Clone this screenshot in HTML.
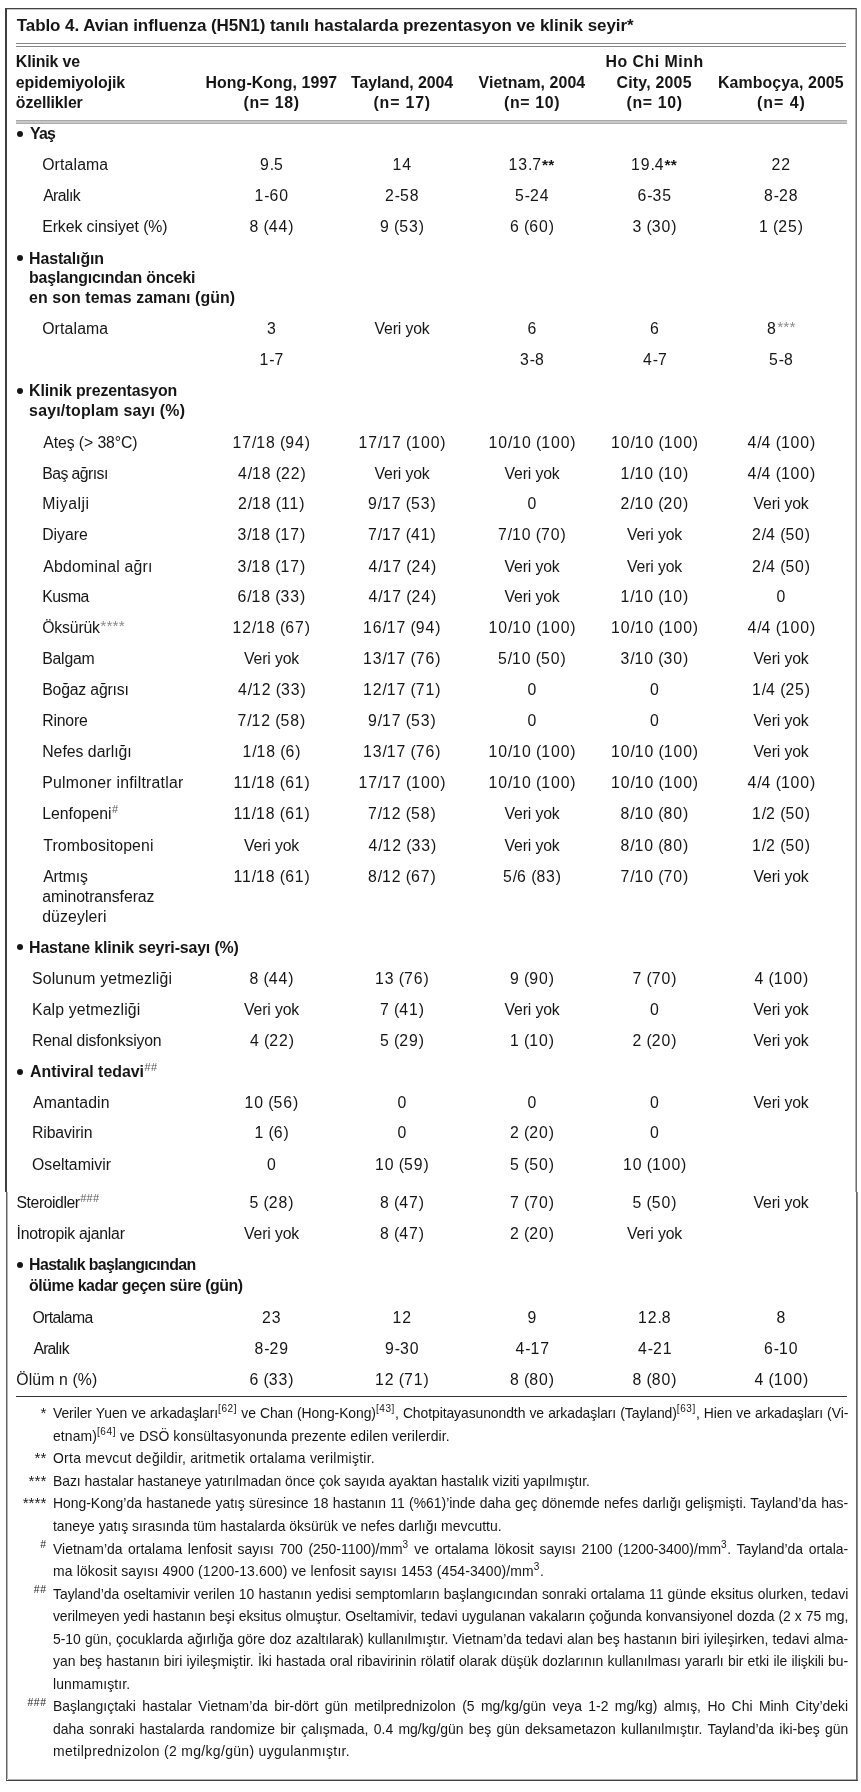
<!DOCTYPE html>
<html><head><meta charset="utf-8"><title>Tablo 4</title><style>
*{margin:0;padding:0;box-sizing:border-box}
html,body{width:861px;height:1792px;background:#fff;overflow:hidden}
body{position:relative;font-family:"Liberation Sans",sans-serif;color:#161616}
.t{position:absolute;white-space:nowrap;line-height:20px;height:20px;transform-origin:0 0}
.r{position:absolute}
.spa{font-size:15.5px;color:#8a8a8a;vertical-align:baseline;position:relative;top:-2.5px;letter-spacing:0.1px;font-weight:normal;margin-left:0.5px}
.sph{font-size:11px;color:#5a5a5a;vertical-align:baseline;position:relative;top:-6px;letter-spacing:0.3px;font-weight:normal;margin-left:0.5px}
sup{font-size:10.5px;letter-spacing:0.6px;vertical-align:baseline;position:relative;top:-6px;line-height:0}
.fn{transform-origin:0 0}
.ast{font-weight:bold;font-size:15.5px;letter-spacing:0.3px}
#pg{position:absolute;left:0;top:0;width:861px;height:1792px;background:#fff;filter:grayscale(1)}
.bul{position:absolute;width:6px;height:6px;border-radius:50%;background:#161616}
</style></head>
<body><div id="pg">
<div class="r" style="left:5px;top:8px;width:852px;height:1px;background:#444"></div>
<div class="r" style="left:7px;top:9px;width:849px;height:1px;background:#c4c4c4"></div>
<div class="r" style="left:5px;top:8px;width:2px;height:1184px;background:#3f3f3f"></div>
<div class="r" style="left:6px;top:1192px;width:1px;height:589px;background:#646464"></div>
<div class="r" style="left:7px;top:1192px;width:1px;height:587px;background:#b5b5b5"></div>
<div class="r" style="left:855px;top:9px;width:1px;height:1183px;background:#b0b0b0"></div>
<div class="r" style="left:856px;top:8px;width:1px;height:1184px;background:#6e6e6e"></div>
<div class="r" style="left:856px;top:1192px;width:1px;height:589px;background:#686868"></div>
<div class="r" style="left:857px;top:1192px;width:1px;height:589px;background:#8c8c8c"></div>
<div class="r" style="left:8px;top:1779px;width:848px;height:1px;background:#b0b0b0"></div>
<div class="r" style="left:6px;top:1780px;width:852px;height:1px;background:#444"></div>
<div class="r" style="left:16px;top:43px;width:830px;height:1px;background:#858585"></div>
<div class="r" style="left:16px;top:46px;width:830px;height:1px;background:#858585"></div>
<div class="r" style="left:16px;top:120px;width:831px;height:1px;background:#a8a8a8"></div>
<div class="r" style="left:16px;top:121px;width:831px;height:2px;background:#c8c8c8"></div>
<div class="r" style="left:16px;top:123px;width:831px;height:1px;background:#aeaeae"></div>
<div class="r" style="left:16.4px;top:1396px;width:830.4px;height:1.3px;background:#333"></div>
<div class="t" style="left:16.70px;top:16.00px;font-size:17px;letter-spacing:-0.064px;font-weight:bold;">Tablo 4. Avian influenza (H5N1) tanılı hastalarda prezentasyon ve klinik seyir*</div>
<div class="t" style="left:15.80px;top:52.00px;font-size:15.9px;letter-spacing:-0.125px;font-weight:bold;">Klinik ve</div>
<div class="t" style="left:15.80px;top:73.00px;font-size:15.9px;letter-spacing:-0.077px;font-weight:bold;">epidemiyolojik</div>
<div class="t" style="left:15.80px;top:93.00px;font-size:15.9px;letter-spacing:-0.111px;font-weight:bold;">özellikler</div>
<div class="t" style="left:205.50px;top:73.00px;font-size:15.9px;letter-spacing:0.071px;font-weight:bold;">Hong-Kong, 1997</div>
<div class="t" style="left:243.50px;top:93.00px;font-size:15.9px;letter-spacing:0.667px;font-weight:bold;">(n= 18)</div>
<div class="t" style="left:351.00px;top:73.00px;font-size:15.9px;letter-spacing:-0.083px;font-weight:bold;">Tayland, 2004</div>
<div class="t" style="left:373.50px;top:93.00px;font-size:15.9px;letter-spacing:0.833px;font-weight:bold;">(n= 17)</div>
<div class="t" style="left:478.50px;top:73.00px;font-size:15.9px;letter-spacing:0.083px;font-weight:bold;">Vietnam, 2004</div>
<div class="t" style="left:504.00px;top:93.00px;font-size:15.9px;letter-spacing:0.667px;font-weight:bold;">(n= 10)</div>
<div class="t" style="left:605.50px;top:52.00px;font-size:15.9px;letter-spacing:0.500px;font-weight:bold;">Ho Chi Minh</div>
<div class="t" style="left:616.50px;top:73.00px;font-size:15.9px;letter-spacing:0.222px;font-weight:bold;">City, 2005</div>
<div class="t" style="left:626.50px;top:93.00px;font-size:15.9px;letter-spacing:0.667px;font-weight:bold;">(n= 10)</div>
<div class="t" style="left:718.00px;top:73.00px;font-size:15.9px;letter-spacing:0.077px;font-weight:bold;">Kamboçya, 2005</div>
<div class="t" style="left:757.00px;top:93.00px;font-size:15.9px;letter-spacing:1.000px;font-weight:bold;">(n= 4)</div>
<div class="t" style="left:30.10px;top:124.00px;font-size:15.9px;letter-spacing:-0.800px;font-weight:bold;">Yaş</div>
<div class="t" style="left:42.20px;top:155.00px;font-size:15.8px;letter-spacing:0.143px;">Ortalama</div>
<div class="t" style="left:260.00px;top:155.00px;font-size:15.8px;letter-spacing:0.000px;"><span style="letter-spacing:0.9px">9</span>.<span style="letter-spacing:0.9px">5</span></div>
<div class="t" style="left:392.50px;top:155.00px;font-size:15.8px;letter-spacing:0.000px;"><span style="letter-spacing:0.9px">14</span></div>
<div class="t" style="left:508.50px;top:155.00px;font-size:15.8px;letter-spacing:0.000px;"><span style="letter-spacing:0.9px">13</span>.<span style="letter-spacing:0.9px">7</span><b class=ast>**</b></div>
<div class="t" style="left:631.00px;top:155.00px;font-size:15.8px;letter-spacing:0.000px;"><span style="letter-spacing:0.9px">19</span>.<span style="letter-spacing:0.9px">4</span><b class=ast>**</b></div>
<div class="t" style="left:771.50px;top:155.00px;font-size:15.8px;letter-spacing:0.000px;"><span style="letter-spacing:0.9px">22</span></div>
<div class="t" style="left:43.20px;top:186.00px;font-size:15.8px;letter-spacing:-0.600px;">Aralık</div>
<div class="t" style="left:254.50px;top:186.00px;font-size:15.8px;letter-spacing:0.000px;"><span style="letter-spacing:0.9px">1</span>-<span style="letter-spacing:0.9px">60</span></div>
<div class="t" style="left:385.00px;top:186.00px;font-size:15.8px;letter-spacing:0.000px;"><span style="letter-spacing:0.9px">2</span>-<span style="letter-spacing:0.9px">58</span></div>
<div class="t" style="left:515.00px;top:186.00px;font-size:15.8px;letter-spacing:0.000px;"><span style="letter-spacing:0.9px">5</span>-<span style="letter-spacing:0.9px">24</span></div>
<div class="t" style="left:637.50px;top:186.00px;font-size:15.8px;letter-spacing:0.000px;"><span style="letter-spacing:0.9px">6</span>-<span style="letter-spacing:0.9px">35</span></div>
<div class="t" style="left:764.00px;top:186.00px;font-size:15.8px;letter-spacing:0.000px;"><span style="letter-spacing:0.9px">8</span>-<span style="letter-spacing:0.9px">28</span></div>
<div class="t" style="left:42.20px;top:217.00px;font-size:15.8px;letter-spacing:-0.059px;">Erkek cinsiyet (%)</div>
<div class="t" style="left:249.50px;top:217.00px;font-size:15.8px;letter-spacing:0.000px;"><span style="letter-spacing:0.9px">8</span> (<span style="letter-spacing:0.9px">44</span>)</div>
<div class="t" style="left:380.00px;top:217.00px;font-size:15.8px;letter-spacing:0.000px;"><span style="letter-spacing:0.9px">9</span> (<span style="letter-spacing:0.9px">53</span>)</div>
<div class="t" style="left:510.00px;top:217.00px;font-size:15.8px;letter-spacing:0.000px;"><span style="letter-spacing:0.9px">6</span> (<span style="letter-spacing:0.9px">60</span>)</div>
<div class="t" style="left:632.50px;top:217.00px;font-size:15.8px;letter-spacing:0.000px;"><span style="letter-spacing:0.9px">3</span> (<span style="letter-spacing:0.9px">30</span>)</div>
<div class="t" style="left:759.00px;top:217.00px;font-size:15.8px;letter-spacing:0.000px;"><span style="letter-spacing:0.9px">1</span> (<span style="letter-spacing:0.9px">25</span>)</div>
<div class="t" style="left:29.10px;top:249.00px;font-size:15.9px;letter-spacing:-0.111px;font-weight:bold;">Hastalığın</div>
<div class="t" style="left:29.10px;top:268.00px;font-size:15.9px;letter-spacing:-0.200px;font-weight:bold;">başlangıcından önceki</div>
<div class="t" style="left:29.10px;top:288.00px;font-size:15.9px;letter-spacing:0.083px;font-weight:bold;">en son temas zamanı (gün)</div>
<div class="t" style="left:42.20px;top:319.00px;font-size:15.8px;letter-spacing:0.143px;">Ortalama</div>
<div class="t" style="left:267.00px;top:319.00px;font-size:15.8px;letter-spacing:0.000px;"><span style="letter-spacing:0.9px">3</span></div>
<div class="t" style="left:374.50px;top:319.00px;font-size:15.8px;letter-spacing:-0.143px;">Veri yok</div>
<div class="t" style="left:527.50px;top:319.00px;font-size:15.8px;letter-spacing:0.000px;"><span style="letter-spacing:0.9px">6</span></div>
<div class="t" style="left:650.00px;top:319.00px;font-size:15.8px;letter-spacing:0.000px;"><span style="letter-spacing:0.9px">6</span></div>
<div class="t" style="left:767.00px;top:319.00px;font-size:15.8px;letter-spacing:0.000px;"><span style="letter-spacing:0.9px">8</span><span class="spa">***</span></div>
<div class="t" style="left:259.50px;top:350.00px;font-size:15.8px;letter-spacing:0.000px;"><span style="letter-spacing:0.9px">1</span>-<span style="letter-spacing:0.9px">7</span></div>
<div class="t" style="left:520.00px;top:350.00px;font-size:15.8px;letter-spacing:0.000px;"><span style="letter-spacing:0.9px">3</span>-<span style="letter-spacing:0.9px">8</span></div>
<div class="t" style="left:643.00px;top:350.00px;font-size:15.8px;letter-spacing:0.000px;"><span style="letter-spacing:0.9px">4</span>-<span style="letter-spacing:0.9px">7</span></div>
<div class="t" style="left:769.00px;top:350.00px;font-size:15.8px;letter-spacing:0.000px;"><span style="letter-spacing:0.9px">5</span>-<span style="letter-spacing:0.9px">8</span></div>
<div class="t" style="left:29.10px;top:381.00px;font-size:15.9px;letter-spacing:-0.111px;font-weight:bold;">Klinik prezentasyon</div>
<div class="t" style="left:29.10px;top:401.00px;font-size:15.9px;letter-spacing:0.211px;font-weight:bold;">sayı/toplam sayı (%)</div>
<div class="t" style="left:43.20px;top:433.00px;font-size:15.8px;letter-spacing:-0.083px;">Ateş (&gt; 38°C)</div>
<div class="t" style="left:232.50px;top:433.00px;font-size:15.8px;letter-spacing:0.000px;"><span style="letter-spacing:0.9px">17</span>/<span style="letter-spacing:0.9px">18</span> (<span style="letter-spacing:0.9px">94</span>)</div>
<div class="t" style="left:358.50px;top:433.00px;font-size:15.8px;letter-spacing:0.000px;"><span style="letter-spacing:0.9px">17</span>/<span style="letter-spacing:0.9px">17</span> (<span style="letter-spacing:0.9px">100</span>)</div>
<div class="t" style="left:488.50px;top:433.00px;font-size:15.8px;letter-spacing:0.000px;"><span style="letter-spacing:0.9px">10</span>/<span style="letter-spacing:0.9px">10</span> (<span style="letter-spacing:0.9px">100</span>)</div>
<div class="t" style="left:611.00px;top:433.00px;font-size:15.8px;letter-spacing:0.000px;"><span style="letter-spacing:0.9px">10</span>/<span style="letter-spacing:0.9px">10</span> (<span style="letter-spacing:0.9px">100</span>)</div>
<div class="t" style="left:747.50px;top:433.00px;font-size:15.8px;letter-spacing:0.000px;"><span style="letter-spacing:0.9px">4</span>/<span style="letter-spacing:0.9px">4</span> (<span style="letter-spacing:0.9px">100</span>)</div>
<div class="t" style="left:42.20px;top:464.00px;font-size:15.8px;letter-spacing:-0.556px;">Baş ağrısı</div>
<div class="t" style="left:238.00px;top:464.00px;font-size:15.8px;letter-spacing:0.000px;"><span style="letter-spacing:0.9px">4</span>/<span style="letter-spacing:0.9px">18</span> (<span style="letter-spacing:0.9px">22</span>)</div>
<div class="t" style="left:374.50px;top:464.00px;font-size:15.8px;letter-spacing:-0.143px;">Veri yok</div>
<div class="t" style="left:504.50px;top:464.00px;font-size:15.8px;letter-spacing:-0.143px;">Veri yok</div>
<div class="t" style="left:620.50px;top:464.00px;font-size:15.8px;letter-spacing:0.000px;"><span style="letter-spacing:0.9px">1</span>/<span style="letter-spacing:0.9px">10</span> (<span style="letter-spacing:0.9px">10</span>)</div>
<div class="t" style="left:747.50px;top:464.00px;font-size:15.8px;letter-spacing:0.000px;"><span style="letter-spacing:0.9px">4</span>/<span style="letter-spacing:0.9px">4</span> (<span style="letter-spacing:0.9px">100</span>)</div>
<div class="t" style="left:42.20px;top:494.00px;font-size:15.8px;letter-spacing:0.500px;">Miyalji</div>
<div class="t" style="left:238.00px;top:494.00px;font-size:15.8px;letter-spacing:0.000px;"><span style="letter-spacing:0.9px">2</span>/<span style="letter-spacing:0.9px">18</span> (<span style="letter-spacing:0.9px">11</span>)</div>
<div class="t" style="left:368.00px;top:494.00px;font-size:15.8px;letter-spacing:0.000px;"><span style="letter-spacing:0.9px">9</span>/<span style="letter-spacing:0.9px">17</span> (<span style="letter-spacing:0.9px">53</span>)</div>
<div class="t" style="left:527.50px;top:494.00px;font-size:15.8px;letter-spacing:0.000px;"><span style="letter-spacing:0.9px">0</span></div>
<div class="t" style="left:620.50px;top:494.00px;font-size:15.8px;letter-spacing:0.000px;"><span style="letter-spacing:0.9px">2</span>/<span style="letter-spacing:0.9px">10</span> (<span style="letter-spacing:0.9px">20</span>)</div>
<div class="t" style="left:753.50px;top:494.00px;font-size:15.8px;letter-spacing:-0.143px;">Veri yok</div>
<div class="t" style="left:42.20px;top:525.00px;font-size:15.8px;letter-spacing:0.000px;">Diyare</div>
<div class="t" style="left:237.50px;top:525.00px;font-size:15.8px;letter-spacing:0.000px;"><span style="letter-spacing:0.9px">3</span>/<span style="letter-spacing:0.9px">18</span> (<span style="letter-spacing:0.9px">17</span>)</div>
<div class="t" style="left:368.00px;top:525.00px;font-size:15.8px;letter-spacing:0.000px;"><span style="letter-spacing:0.9px">7</span>/<span style="letter-spacing:0.9px">17</span> (<span style="letter-spacing:0.9px">41</span>)</div>
<div class="t" style="left:498.00px;top:525.00px;font-size:15.8px;letter-spacing:0.000px;"><span style="letter-spacing:0.9px">7</span>/<span style="letter-spacing:0.9px">10</span> (<span style="letter-spacing:0.9px">70</span>)</div>
<div class="t" style="left:627.00px;top:525.00px;font-size:15.8px;letter-spacing:-0.143px;">Veri yok</div>
<div class="t" style="left:752.00px;top:525.00px;font-size:15.8px;letter-spacing:0.000px;"><span style="letter-spacing:0.9px">2</span>/<span style="letter-spacing:0.9px">4</span> (<span style="letter-spacing:0.9px">50</span>)</div>
<div class="t" style="left:43.20px;top:557.00px;font-size:15.8px;letter-spacing:0.231px;">Abdominal ağrı</div>
<div class="t" style="left:237.50px;top:557.00px;font-size:15.8px;letter-spacing:0.000px;"><span style="letter-spacing:0.9px">3</span>/<span style="letter-spacing:0.9px">18</span> (<span style="letter-spacing:0.9px">17</span>)</div>
<div class="t" style="left:368.50px;top:557.00px;font-size:15.8px;letter-spacing:0.000px;"><span style="letter-spacing:0.9px">4</span>/<span style="letter-spacing:0.9px">17</span> (<span style="letter-spacing:0.9px">24</span>)</div>
<div class="t" style="left:504.50px;top:557.00px;font-size:15.8px;letter-spacing:-0.143px;">Veri yok</div>
<div class="t" style="left:627.00px;top:557.00px;font-size:15.8px;letter-spacing:-0.143px;">Veri yok</div>
<div class="t" style="left:752.00px;top:557.00px;font-size:15.8px;letter-spacing:0.000px;"><span style="letter-spacing:0.9px">2</span>/<span style="letter-spacing:0.9px">4</span> (<span style="letter-spacing:0.9px">50</span>)</div>
<div class="t" style="left:42.20px;top:587.00px;font-size:15.8px;letter-spacing:-0.500px;">Kusma</div>
<div class="t" style="left:237.50px;top:587.00px;font-size:15.8px;letter-spacing:0.000px;"><span style="letter-spacing:0.9px">6</span>/<span style="letter-spacing:0.9px">18</span> (<span style="letter-spacing:0.9px">33</span>)</div>
<div class="t" style="left:368.50px;top:587.00px;font-size:15.8px;letter-spacing:0.000px;"><span style="letter-spacing:0.9px">4</span>/<span style="letter-spacing:0.9px">17</span> (<span style="letter-spacing:0.9px">24</span>)</div>
<div class="t" style="left:504.50px;top:587.00px;font-size:15.8px;letter-spacing:-0.143px;">Veri yok</div>
<div class="t" style="left:620.50px;top:587.00px;font-size:15.8px;letter-spacing:0.000px;"><span style="letter-spacing:0.9px">1</span>/<span style="letter-spacing:0.9px">10</span> (<span style="letter-spacing:0.9px">10</span>)</div>
<div class="t" style="left:776.50px;top:587.00px;font-size:15.8px;letter-spacing:0.000px;"><span style="letter-spacing:0.9px">0</span></div>
<div class="t" style="left:42.20px;top:618.00px;font-size:15.8px;letter-spacing:-0.167px;">Öksürük<span class="spa">****</span></div>
<div class="t" style="left:232.50px;top:618.00px;font-size:15.8px;letter-spacing:0.000px;"><span style="letter-spacing:0.9px">12</span>/<span style="letter-spacing:0.9px">18</span> (<span style="letter-spacing:0.9px">67</span>)</div>
<div class="t" style="left:363.00px;top:618.00px;font-size:15.8px;letter-spacing:0.000px;"><span style="letter-spacing:0.9px">16</span>/<span style="letter-spacing:0.9px">17</span> (<span style="letter-spacing:0.9px">94</span>)</div>
<div class="t" style="left:488.50px;top:618.00px;font-size:15.8px;letter-spacing:0.000px;"><span style="letter-spacing:0.9px">10</span>/<span style="letter-spacing:0.9px">10</span> (<span style="letter-spacing:0.9px">100</span>)</div>
<div class="t" style="left:611.00px;top:618.00px;font-size:15.8px;letter-spacing:0.000px;"><span style="letter-spacing:0.9px">10</span>/<span style="letter-spacing:0.9px">10</span> (<span style="letter-spacing:0.9px">100</span>)</div>
<div class="t" style="left:747.50px;top:618.00px;font-size:15.8px;letter-spacing:0.000px;"><span style="letter-spacing:0.9px">4</span>/<span style="letter-spacing:0.9px">4</span> (<span style="letter-spacing:0.9px">100</span>)</div>
<div class="t" style="left:42.20px;top:649.00px;font-size:15.8px;letter-spacing:-0.200px;">Balgam</div>
<div class="t" style="left:244.00px;top:649.00px;font-size:15.8px;letter-spacing:-0.143px;">Veri yok</div>
<div class="t" style="left:363.00px;top:649.00px;font-size:15.8px;letter-spacing:0.000px;"><span style="letter-spacing:0.9px">13</span>/<span style="letter-spacing:0.9px">17</span> (<span style="letter-spacing:0.9px">76</span>)</div>
<div class="t" style="left:498.00px;top:649.00px;font-size:15.8px;letter-spacing:0.000px;"><span style="letter-spacing:0.9px">5</span>/<span style="letter-spacing:0.9px">10</span> (<span style="letter-spacing:0.9px">50</span>)</div>
<div class="t" style="left:620.50px;top:649.00px;font-size:15.8px;letter-spacing:0.000px;"><span style="letter-spacing:0.9px">3</span>/<span style="letter-spacing:0.9px">10</span> (<span style="letter-spacing:0.9px">30</span>)</div>
<div class="t" style="left:753.50px;top:649.00px;font-size:15.8px;letter-spacing:-0.143px;">Veri yok</div>
<div class="t" style="left:42.20px;top:680.00px;font-size:15.8px;letter-spacing:-0.182px;">Boğaz ağrısı</div>
<div class="t" style="left:238.00px;top:680.00px;font-size:15.8px;letter-spacing:0.000px;"><span style="letter-spacing:0.9px">4</span>/<span style="letter-spacing:0.9px">12</span> (<span style="letter-spacing:0.9px">33</span>)</div>
<div class="t" style="left:363.00px;top:680.00px;font-size:15.8px;letter-spacing:0.000px;"><span style="letter-spacing:0.9px">12</span>/<span style="letter-spacing:0.9px">17</span> (<span style="letter-spacing:0.9px">71</span>)</div>
<div class="t" style="left:527.50px;top:680.00px;font-size:15.8px;letter-spacing:0.000px;"><span style="letter-spacing:0.9px">0</span></div>
<div class="t" style="left:650.00px;top:680.00px;font-size:15.8px;letter-spacing:0.000px;"><span style="letter-spacing:0.9px">0</span></div>
<div class="t" style="left:752.00px;top:680.00px;font-size:15.8px;letter-spacing:0.000px;"><span style="letter-spacing:0.9px">1</span>/<span style="letter-spacing:0.9px">4</span> (<span style="letter-spacing:0.9px">25</span>)</div>
<div class="t" style="left:42.20px;top:711.00px;font-size:15.8px;letter-spacing:-0.200px;">Rinore</div>
<div class="t" style="left:237.50px;top:711.00px;font-size:15.8px;letter-spacing:0.000px;"><span style="letter-spacing:0.9px">7</span>/<span style="letter-spacing:0.9px">12</span> (<span style="letter-spacing:0.9px">58</span>)</div>
<div class="t" style="left:368.00px;top:711.00px;font-size:15.8px;letter-spacing:0.000px;"><span style="letter-spacing:0.9px">9</span>/<span style="letter-spacing:0.9px">17</span> (<span style="letter-spacing:0.9px">53</span>)</div>
<div class="t" style="left:527.50px;top:711.00px;font-size:15.8px;letter-spacing:0.000px;"><span style="letter-spacing:0.9px">0</span></div>
<div class="t" style="left:650.00px;top:711.00px;font-size:15.8px;letter-spacing:0.000px;"><span style="letter-spacing:0.9px">0</span></div>
<div class="t" style="left:753.50px;top:711.00px;font-size:15.8px;letter-spacing:-0.143px;">Veri yok</div>
<div class="t" style="left:42.20px;top:742.00px;font-size:15.8px;letter-spacing:-0.000px;">Nefes darlığı</div>
<div class="t" style="left:242.50px;top:742.00px;font-size:15.8px;letter-spacing:0.000px;"><span style="letter-spacing:0.9px">1</span>/<span style="letter-spacing:0.9px">18</span> (<span style="letter-spacing:0.9px">6</span>)</div>
<div class="t" style="left:363.00px;top:742.00px;font-size:15.8px;letter-spacing:0.000px;"><span style="letter-spacing:0.9px">13</span>/<span style="letter-spacing:0.9px">17</span> (<span style="letter-spacing:0.9px">76</span>)</div>
<div class="t" style="left:488.50px;top:742.00px;font-size:15.8px;letter-spacing:0.000px;"><span style="letter-spacing:0.9px">10</span>/<span style="letter-spacing:0.9px">10</span> (<span style="letter-spacing:0.9px">100</span>)</div>
<div class="t" style="left:611.00px;top:742.00px;font-size:15.8px;letter-spacing:0.000px;"><span style="letter-spacing:0.9px">10</span>/<span style="letter-spacing:0.9px">10</span> (<span style="letter-spacing:0.9px">100</span>)</div>
<div class="t" style="left:753.50px;top:742.00px;font-size:15.8px;letter-spacing:-0.143px;">Veri yok</div>
<div class="t" style="left:42.20px;top:773.00px;font-size:15.8px;letter-spacing:0.250px;">Pulmoner infiltratlar</div>
<div class="t" style="left:233.50px;top:773.00px;font-size:15.8px;letter-spacing:0.000px;"><span style="letter-spacing:0.9px">11</span>/<span style="letter-spacing:0.9px">18</span> (<span style="letter-spacing:0.9px">61</span>)</div>
<div class="t" style="left:358.50px;top:773.00px;font-size:15.8px;letter-spacing:0.000px;"><span style="letter-spacing:0.9px">17</span>/<span style="letter-spacing:0.9px">17</span> (<span style="letter-spacing:0.9px">100</span>)</div>
<div class="t" style="left:488.50px;top:773.00px;font-size:15.8px;letter-spacing:0.000px;"><span style="letter-spacing:0.9px">10</span>/<span style="letter-spacing:0.9px">10</span> (<span style="letter-spacing:0.9px">100</span>)</div>
<div class="t" style="left:611.00px;top:773.00px;font-size:15.8px;letter-spacing:0.000px;"><span style="letter-spacing:0.9px">10</span>/<span style="letter-spacing:0.9px">10</span> (<span style="letter-spacing:0.9px">100</span>)</div>
<div class="t" style="left:747.50px;top:773.00px;font-size:15.8px;letter-spacing:0.000px;"><span style="letter-spacing:0.9px">4</span>/<span style="letter-spacing:0.9px">4</span> (<span style="letter-spacing:0.9px">100</span>)</div>
<div class="t" style="left:42.20px;top:804.00px;font-size:15.8px;letter-spacing:0.000px;">Lenfopeni<span class="sph">#</span></div>
<div class="t" style="left:233.50px;top:804.00px;font-size:15.8px;letter-spacing:0.000px;"><span style="letter-spacing:0.9px">11</span>/<span style="letter-spacing:0.9px">18</span> (<span style="letter-spacing:0.9px">61</span>)</div>
<div class="t" style="left:368.00px;top:804.00px;font-size:15.8px;letter-spacing:0.000px;"><span style="letter-spacing:0.9px">7</span>/<span style="letter-spacing:0.9px">12</span> (<span style="letter-spacing:0.9px">58</span>)</div>
<div class="t" style="left:504.50px;top:804.00px;font-size:15.8px;letter-spacing:-0.143px;">Veri yok</div>
<div class="t" style="left:620.50px;top:804.00px;font-size:15.8px;letter-spacing:0.000px;"><span style="letter-spacing:0.9px">8</span>/<span style="letter-spacing:0.9px">10</span> (<span style="letter-spacing:0.9px">80</span>)</div>
<div class="t" style="left:752.00px;top:804.00px;font-size:15.8px;letter-spacing:0.000px;"><span style="letter-spacing:0.9px">1</span>/<span style="letter-spacing:0.9px">2</span> (<span style="letter-spacing:0.9px">50</span>)</div>
<div class="t" style="left:43.20px;top:836.00px;font-size:15.8px;letter-spacing:0.154px;">Trombositopeni</div>
<div class="t" style="left:244.00px;top:836.00px;font-size:15.8px;letter-spacing:-0.143px;">Veri yok</div>
<div class="t" style="left:368.50px;top:836.00px;font-size:15.8px;letter-spacing:0.000px;"><span style="letter-spacing:0.9px">4</span>/<span style="letter-spacing:0.9px">12</span> (<span style="letter-spacing:0.9px">33</span>)</div>
<div class="t" style="left:504.50px;top:836.00px;font-size:15.8px;letter-spacing:-0.143px;">Veri yok</div>
<div class="t" style="left:620.50px;top:836.00px;font-size:15.8px;letter-spacing:0.000px;"><span style="letter-spacing:0.9px">8</span>/<span style="letter-spacing:0.9px">10</span> (<span style="letter-spacing:0.9px">80</span>)</div>
<div class="t" style="left:752.00px;top:836.00px;font-size:15.8px;letter-spacing:0.000px;"><span style="letter-spacing:0.9px">1</span>/<span style="letter-spacing:0.9px">2</span> (<span style="letter-spacing:0.9px">50</span>)</div>
<div class="t" style="left:43.20px;top:867.00px;font-size:15.8px;letter-spacing:-0.200px;">Artmış</div>
<div class="t" style="left:42.20px;top:887.00px;font-size:15.8px;letter-spacing:-0.071px;">aminotransferaz</div>
<div class="t" style="left:42.20px;top:907.00px;font-size:15.8px;letter-spacing:0.125px;">düzeyleri</div>
<div class="t" style="left:233.50px;top:867.00px;font-size:15.8px;letter-spacing:0.000px;"><span style="letter-spacing:0.9px">11</span>/<span style="letter-spacing:0.9px">18</span> (<span style="letter-spacing:0.9px">61</span>)</div>
<div class="t" style="left:368.00px;top:867.00px;font-size:15.8px;letter-spacing:0.000px;"><span style="letter-spacing:0.9px">8</span>/<span style="letter-spacing:0.9px">12</span> (<span style="letter-spacing:0.9px">67</span>)</div>
<div class="t" style="left:503.00px;top:867.00px;font-size:15.8px;letter-spacing:0.000px;"><span style="letter-spacing:0.9px">5</span>/<span style="letter-spacing:0.9px">6</span> (<span style="letter-spacing:0.9px">83</span>)</div>
<div class="t" style="left:620.50px;top:867.00px;font-size:15.8px;letter-spacing:0.000px;"><span style="letter-spacing:0.9px">7</span>/<span style="letter-spacing:0.9px">10</span> (<span style="letter-spacing:0.9px">70</span>)</div>
<div class="t" style="left:753.50px;top:867.00px;font-size:15.8px;letter-spacing:-0.143px;">Veri yok</div>
<div class="t" style="left:29.10px;top:938.00px;font-size:15.9px;letter-spacing:-0.143px;font-weight:bold;">Hastane klinik seyri-sayı (%)</div>
<div class="t" style="left:32.00px;top:969.00px;font-size:15.8px;letter-spacing:0.176px;">Solunum yetmezliği</div>
<div class="t" style="left:249.50px;top:969.00px;font-size:15.8px;letter-spacing:0.000px;"><span style="letter-spacing:0.9px">8</span> (<span style="letter-spacing:0.9px">44</span>)</div>
<div class="t" style="left:375.00px;top:969.00px;font-size:15.8px;letter-spacing:0.000px;"><span style="letter-spacing:0.9px">13</span> (<span style="letter-spacing:0.9px">76</span>)</div>
<div class="t" style="left:510.00px;top:969.00px;font-size:15.8px;letter-spacing:0.000px;"><span style="letter-spacing:0.9px">9</span> (<span style="letter-spacing:0.9px">90</span>)</div>
<div class="t" style="left:632.50px;top:969.00px;font-size:15.8px;letter-spacing:0.000px;"><span style="letter-spacing:0.9px">7</span> (<span style="letter-spacing:0.9px">70</span>)</div>
<div class="t" style="left:754.50px;top:969.00px;font-size:15.8px;letter-spacing:0.000px;"><span style="letter-spacing:0.9px">4</span> (<span style="letter-spacing:0.9px">100</span>)</div>
<div class="t" style="left:32.00px;top:1000.00px;font-size:15.8px;letter-spacing:0.143px;">Kalp yetmezliği</div>
<div class="t" style="left:244.00px;top:1000.00px;font-size:15.8px;letter-spacing:-0.143px;">Veri yok</div>
<div class="t" style="left:380.00px;top:1000.00px;font-size:15.8px;letter-spacing:0.000px;"><span style="letter-spacing:0.9px">7</span> (<span style="letter-spacing:0.9px">41</span>)</div>
<div class="t" style="left:504.50px;top:1000.00px;font-size:15.8px;letter-spacing:-0.143px;">Veri yok</div>
<div class="t" style="left:650.00px;top:1000.00px;font-size:15.8px;letter-spacing:0.000px;"><span style="letter-spacing:0.9px">0</span></div>
<div class="t" style="left:753.50px;top:1000.00px;font-size:15.8px;letter-spacing:-0.143px;">Veri yok</div>
<div class="t" style="left:32.00px;top:1031.00px;font-size:15.8px;letter-spacing:-0.176px;">Renal disfonksiyon</div>
<div class="t" style="left:250.00px;top:1031.00px;font-size:15.8px;letter-spacing:0.000px;"><span style="letter-spacing:0.9px">4</span> (<span style="letter-spacing:0.9px">22</span>)</div>
<div class="t" style="left:380.00px;top:1031.00px;font-size:15.8px;letter-spacing:0.000px;"><span style="letter-spacing:0.9px">5</span> (<span style="letter-spacing:0.9px">29</span>)</div>
<div class="t" style="left:510.00px;top:1031.00px;font-size:15.8px;letter-spacing:0.000px;"><span style="letter-spacing:0.9px">1</span> (<span style="letter-spacing:0.9px">10</span>)</div>
<div class="t" style="left:632.50px;top:1031.00px;font-size:15.8px;letter-spacing:0.000px;"><span style="letter-spacing:0.9px">2</span> (<span style="letter-spacing:0.9px">20</span>)</div>
<div class="t" style="left:753.50px;top:1031.00px;font-size:15.8px;letter-spacing:-0.143px;">Veri yok</div>
<div class="t" style="left:30.10px;top:1062.00px;font-size:15.9px;letter-spacing:0.000px;font-weight:bold;">Antiviral tedavi<span class="sph">##</span></div>
<div class="t" style="left:33.00px;top:1093.00px;font-size:15.8px;letter-spacing:0.125px;">Amantadin</div>
<div class="t" style="left:244.50px;top:1093.00px;font-size:15.8px;letter-spacing:0.000px;"><span style="letter-spacing:0.9px">10</span> (<span style="letter-spacing:0.9px">56</span>)</div>
<div class="t" style="left:397.50px;top:1093.00px;font-size:15.8px;letter-spacing:0.000px;"><span style="letter-spacing:0.9px">0</span></div>
<div class="t" style="left:527.50px;top:1093.00px;font-size:15.8px;letter-spacing:0.000px;"><span style="letter-spacing:0.9px">0</span></div>
<div class="t" style="left:650.00px;top:1093.00px;font-size:15.8px;letter-spacing:0.000px;"><span style="letter-spacing:0.9px">0</span></div>
<div class="t" style="left:753.50px;top:1093.00px;font-size:15.8px;letter-spacing:-0.143px;">Veri yok</div>
<div class="t" style="left:32.00px;top:1123.00px;font-size:15.8px;letter-spacing:-0.125px;">Ribavirin</div>
<div class="t" style="left:254.50px;top:1123.00px;font-size:15.8px;letter-spacing:0.000px;"><span style="letter-spacing:0.9px">1</span> (<span style="letter-spacing:0.9px">6</span>)</div>
<div class="t" style="left:397.50px;top:1123.00px;font-size:15.8px;letter-spacing:0.000px;"><span style="letter-spacing:0.9px">0</span></div>
<div class="t" style="left:510.00px;top:1123.00px;font-size:15.8px;letter-spacing:0.000px;"><span style="letter-spacing:0.9px">2</span> (<span style="letter-spacing:0.9px">20</span>)</div>
<div class="t" style="left:650.00px;top:1123.00px;font-size:15.8px;letter-spacing:0.000px;"><span style="letter-spacing:0.9px">0</span></div>
<div class="t" style="left:32.00px;top:1155.00px;font-size:15.8px;letter-spacing:0.000px;">Oseltamivir</div>
<div class="t" style="left:267.00px;top:1155.00px;font-size:15.8px;letter-spacing:0.000px;"><span style="letter-spacing:0.9px">0</span></div>
<div class="t" style="left:375.00px;top:1155.00px;font-size:15.8px;letter-spacing:0.000px;"><span style="letter-spacing:0.9px">10</span> (<span style="letter-spacing:0.9px">59</span>)</div>
<div class="t" style="left:510.00px;top:1155.00px;font-size:15.8px;letter-spacing:0.000px;"><span style="letter-spacing:0.9px">5</span> (<span style="letter-spacing:0.9px">50</span>)</div>
<div class="t" style="left:623.00px;top:1155.00px;font-size:15.8px;letter-spacing:0.000px;"><span style="letter-spacing:0.9px">10</span> (<span style="letter-spacing:0.9px">100</span>)</div>
<div class="t" style="left:16.50px;top:1193.00px;font-size:15.8px;letter-spacing:-0.444px;">Steroidler<span class="sph">###</span></div>
<div class="t" style="left:249.50px;top:1193.00px;font-size:15.8px;letter-spacing:0.000px;"><span style="letter-spacing:0.9px">5</span> (<span style="letter-spacing:0.9px">28</span>)</div>
<div class="t" style="left:380.00px;top:1193.00px;font-size:15.8px;letter-spacing:0.000px;"><span style="letter-spacing:0.9px">8</span> (<span style="letter-spacing:0.9px">47</span>)</div>
<div class="t" style="left:510.00px;top:1193.00px;font-size:15.8px;letter-spacing:0.000px;"><span style="letter-spacing:0.9px">7</span> (<span style="letter-spacing:0.9px">70</span>)</div>
<div class="t" style="left:632.50px;top:1193.00px;font-size:15.8px;letter-spacing:0.000px;"><span style="letter-spacing:0.9px">5</span> (<span style="letter-spacing:0.9px">50</span>)</div>
<div class="t" style="left:753.50px;top:1193.00px;font-size:15.8px;letter-spacing:-0.143px;">Veri yok</div>
<div class="t" style="left:16.50px;top:1224.00px;font-size:15.8px;letter-spacing:-0.250px;">İnotropik ajanlar</div>
<div class="t" style="left:244.00px;top:1224.00px;font-size:15.8px;letter-spacing:-0.143px;">Veri yok</div>
<div class="t" style="left:380.00px;top:1224.00px;font-size:15.8px;letter-spacing:0.000px;"><span style="letter-spacing:0.9px">8</span> (<span style="letter-spacing:0.9px">47</span>)</div>
<div class="t" style="left:510.00px;top:1224.00px;font-size:15.8px;letter-spacing:0.000px;"><span style="letter-spacing:0.9px">2</span> (<span style="letter-spacing:0.9px">20</span>)</div>
<div class="t" style="left:627.00px;top:1224.00px;font-size:15.8px;letter-spacing:-0.143px;">Veri yok</div>
<div class="t" style="left:29.10px;top:1255.00px;font-size:15.9px;letter-spacing:-0.636px;font-weight:bold;">Hastalık başlangıcından</div>
<div class="t" style="left:29.10px;top:1276.00px;font-size:15.9px;letter-spacing:-0.444px;font-weight:bold;">ölüme kadar geçen süre (gün)</div>
<div class="t" style="left:32.40px;top:1308.00px;font-size:15.8px;letter-spacing:-0.571px;">Ortalama</div>
<div class="t" style="left:262.00px;top:1308.00px;font-size:15.8px;letter-spacing:0.000px;"><span style="letter-spacing:0.9px">23</span></div>
<div class="t" style="left:392.50px;top:1308.00px;font-size:15.8px;letter-spacing:0.000px;"><span style="letter-spacing:0.9px">12</span></div>
<div class="t" style="left:527.50px;top:1308.00px;font-size:15.8px;letter-spacing:0.000px;"><span style="letter-spacing:0.9px">9</span></div>
<div class="t" style="left:638.00px;top:1308.00px;font-size:15.8px;letter-spacing:0.000px;"><span style="letter-spacing:0.9px">12</span>.<span style="letter-spacing:0.9px">8</span></div>
<div class="t" style="left:776.50px;top:1308.00px;font-size:15.8px;letter-spacing:0.000px;"><span style="letter-spacing:0.9px">8</span></div>
<div class="t" style="left:33.40px;top:1339.00px;font-size:15.8px;letter-spacing:-0.800px;">Aralık</div>
<div class="t" style="left:254.50px;top:1339.00px;font-size:15.8px;letter-spacing:0.000px;"><span style="letter-spacing:0.9px">8</span>-<span style="letter-spacing:0.9px">29</span></div>
<div class="t" style="left:385.00px;top:1339.00px;font-size:15.8px;letter-spacing:0.000px;"><span style="letter-spacing:0.9px">9</span>-<span style="letter-spacing:0.9px">30</span></div>
<div class="t" style="left:515.50px;top:1339.00px;font-size:15.8px;letter-spacing:0.000px;"><span style="letter-spacing:0.9px">4</span>-<span style="letter-spacing:0.9px">17</span></div>
<div class="t" style="left:638.00px;top:1339.00px;font-size:15.8px;letter-spacing:0.000px;"><span style="letter-spacing:0.9px">4</span>-<span style="letter-spacing:0.9px">21</span></div>
<div class="t" style="left:764.00px;top:1339.00px;font-size:15.8px;letter-spacing:0.000px;"><span style="letter-spacing:0.9px">6</span>-<span style="letter-spacing:0.9px">10</span></div>
<div class="t" style="left:16.30px;top:1370.00px;font-size:15.8px;letter-spacing:0.111px;">Ölüm n (%)</div>
<div class="t" style="left:249.50px;top:1370.00px;font-size:15.8px;letter-spacing:0.000px;"><span style="letter-spacing:0.9px">6</span> (<span style="letter-spacing:0.9px">33</span>)</div>
<div class="t" style="left:375.00px;top:1370.00px;font-size:15.8px;letter-spacing:0.000px;"><span style="letter-spacing:0.9px">12</span> (<span style="letter-spacing:0.9px">71</span>)</div>
<div class="t" style="left:510.00px;top:1370.00px;font-size:15.8px;letter-spacing:0.000px;"><span style="letter-spacing:0.9px">8</span> (<span style="letter-spacing:0.9px">80</span>)</div>
<div class="t" style="left:632.50px;top:1370.00px;font-size:15.8px;letter-spacing:0.000px;"><span style="letter-spacing:0.9px">8</span> (<span style="letter-spacing:0.9px">80</span>)</div>
<div class="t" style="left:754.50px;top:1370.00px;font-size:15.8px;letter-spacing:0.000px;"><span style="letter-spacing:0.9px">4</span> (<span style="letter-spacing:0.9px">100</span>)</div>
<div class="bul" style="left:17.3px;top:130.60px"></div>
<div class="bul" style="left:17.3px;top:255.20px"></div>
<div class="bul" style="left:17.3px;top:387.60px"></div>
<div class="bul" style="left:17.3px;top:944.20px"></div>
<div class="bul" style="left:17.3px;top:1068.70px"></div>
<div class="bul" style="left:17.3px;top:1262.10px"></div>
<div class="t" style="top:1403.00px;left:-53.7px;width:100px;text-align:right;font-size:15.2px;">*</div>
<div class="t fn" style="top:1403.00px;left:52.8px;width:832.67px;font-size:14.6px;letter-spacing:-0.09px;text-align:justify;text-align-last:justify;transform:scaleX(0.955);">Veriler Yuen ve arkadaşları<sup>[62]</sup> ve Chan (Hong-Kong)<sup>[43]</sup>, Chotpitayasunondth ve arkadaşları (Tayland)<sup>[63]</sup>, Hien ve arkadaşları (Vi-</div>
<div class="t fn" style="top:1426.00px;left:52.8px;font-size:14.6px;letter-spacing:0.106px;transform:scaleX(0.955);">etnam)<sup>[64]</sup> ve DSÖ konsültasyonunda prezente edilen verilerdir.</div>
<div class="t" style="top:1448.00px;left:-53.7px;width:100px;text-align:right;font-size:15.2px;">**</div>
<div class="t fn" style="top:1448.00px;left:52.8px;font-size:14.6px;letter-spacing:0.27px;transform:scaleX(0.955);">Orta mevcut değildir, aritmetik ortalama verilmiştir.</div>
<div class="t" style="top:1471.00px;left:-53.7px;width:100px;text-align:right;font-size:15.2px;">***</div>
<div class="t fn" style="top:1471.00px;left:52.8px;font-size:14.6px;letter-spacing:-0.054px;transform:scaleX(0.955);">Bazı hastalar hastaneye yatırılmadan önce çok sayıda ayaktan hastalık viziti yapılmıştır.</div>
<div class="t" style="top:1493.00px;left:-53.7px;width:100px;text-align:right;font-size:15.2px;">****</div>
<div class="t fn" style="top:1493.00px;left:52.8px;width:832.67px;font-size:14.6px;letter-spacing:-0.02px;text-align:justify;text-align-last:justify;transform:scaleX(0.955);">Hong-Kong’da hastanede yatış süresince 18 hastanın 11 (%61)’inde daha geç dönemde nefes darlığı gelişmişti. Tayland’da has-</div>
<div class="t fn" style="top:1516.00px;left:52.8px;font-size:14.6px;letter-spacing:0.0px;transform:scaleX(0.955);">taneye yatış sırasında tüm hastalarda öksürük ve nefes darlığı mevcuttu.</div>
<div class="t" style="top:1534.00px;left:-53.3px;width:100px;text-align:right;font-size:10.5px;letter-spacing:0.6px;color:#222">#</div>
<div class="t fn" style="top:1539.00px;left:52.8px;width:832.67px;font-size:14.6px;letter-spacing:0px;text-align:justify;text-align-last:justify;transform:scaleX(0.955);">Vietnam’da ortalama lenfosit sayısı 700 (250-1100)/mm<sup>3</sup> ve ortalama lökosit sayısı 2100 (1200-3400)/mm<sup>3</sup>. Tayland’da ortala-</div>
<div class="t fn" style="top:1561.00px;left:52.8px;font-size:14.6px;letter-spacing:0.15px;transform:scaleX(0.955);">ma lökosit sayısı 4900 (1200-13.600) ve lenfosit sayısı 1453 (454-3400)/mm<sup>3</sup>.</div>
<div class="t" style="top:1579.00px;left:-53.3px;width:100px;text-align:right;font-size:10.5px;letter-spacing:0.6px;color:#222">##</div>
<div class="t fn" style="top:1584.00px;left:52.8px;width:832.67px;font-size:14.6px;letter-spacing:-0.045px;text-align:justify;text-align-last:justify;transform:scaleX(0.955);">Tayland’da oseltamivir verilen 10 hastanın yedisi semptomların başlangıcından sonraki ortalama 11 günde eksitus olurken, tedavi</div>
<div class="t fn" style="top:1606.00px;left:52.8px;width:832.67px;font-size:14.6px;letter-spacing:-0.11px;text-align:justify;text-align-last:justify;transform:scaleX(0.955);">verilmeyen yedi hastanın beşi eksitus olmuştur. Oseltamivir, tedavi uygulanan vakaların çoğunda konvansiyonel dozda (2 x 75 mg,</div>
<div class="t fn" style="top:1629.00px;left:52.8px;width:832.67px;font-size:14.6px;letter-spacing:-0.048px;text-align:justify;text-align-last:justify;transform:scaleX(0.955);">5-10 gün, çocuklarda ağırlığa göre doz azaltılarak) kullanılmıştır. Vietnam’da tedavi alan beş hastanın biri iyileşirken, tedavi alma-</div>
<div class="t fn" style="top:1651.00px;left:52.8px;width:832.67px;font-size:14.6px;letter-spacing:-0.02px;text-align:justify;text-align-last:justify;transform:scaleX(0.955);">yan beş hastanın biri iyileşmiştir. İki hastada oral ribavirinin rölatif olarak düşük dozlarının kullanılması yararlı bir etki ile ilişkili bu-</div>
<div class="t fn" style="top:1674.00px;left:52.8px;font-size:14.6px;letter-spacing:0.105px;transform:scaleX(0.955);">lunmamıştır.</div>
<div class="t" style="top:1692.00px;left:-53.3px;width:100px;text-align:right;font-size:10.5px;letter-spacing:0.6px;color:#222">###</div>
<div class="t fn" style="top:1696.00px;left:52.8px;width:832.67px;font-size:14.6px;letter-spacing:0px;text-align:justify;text-align-last:justify;transform:scaleX(0.955);">Başlangıçtaki hastalar Vietnam’da bir-dört gün metilprednizolon (5 mg/kg/gün veya 1-2 mg/kg) almış, Ho Chi Minh City’deki</div>
<div class="t fn" style="top:1719.00px;left:52.8px;width:832.67px;font-size:14.6px;letter-spacing:0px;text-align:justify;text-align-last:justify;transform:scaleX(0.955);">daha sonraki hastalarda randomize bir çalışmada, 0.4 mg/kg/gün beş gün deksametazon kullanılmıştır. Tayland’da iki-beş gün</div>
<div class="t fn" style="top:1741.00px;left:52.8px;font-size:14.6px;letter-spacing:0.35px;transform:scaleX(0.955);">metilprednizolon (2 mg/kg/gün) uygulanmıştır.</div>
</div></body></html>
